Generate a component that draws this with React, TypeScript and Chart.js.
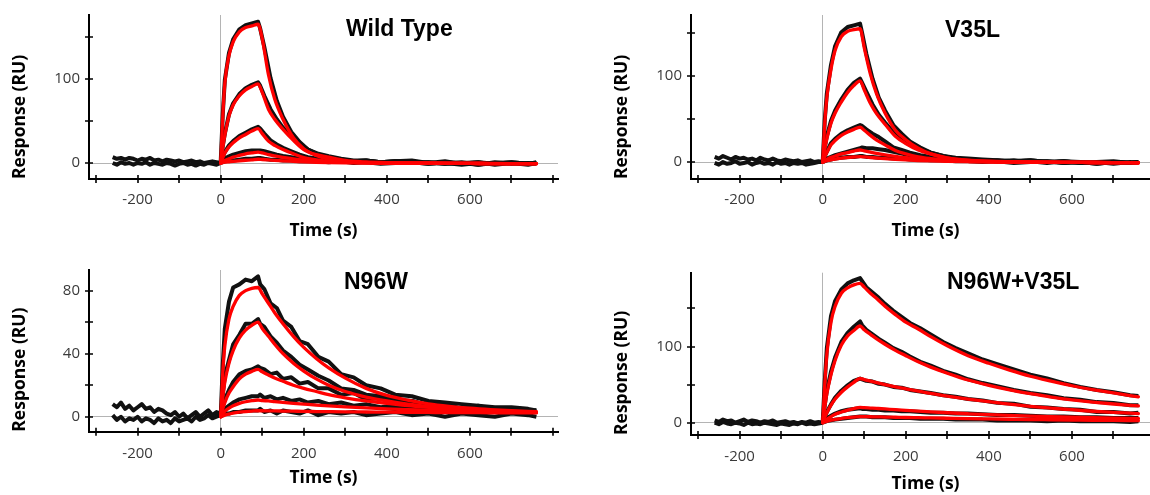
import React, { useEffect, useRef } from "react";
import { Chart, registerables } from "chart.js";

Chart.register(...registerables);

// ---------- time grids (s) ----------
const T_FIT = [0, 5, 10, 20, 30, 45, 60, 75, 90, 100, 115, 130, 150, 175, 200, 230, 260, 300, 350, 400, 450, 500, 550, 600, 650, 700, 760];
const T_RAW = [0, 5, 10, 20, 30, 45, 60, 75, 90, 95, 105, 120, 135, 150, 170, 190, 210, 235, 260, 290, 320, 350, 385, 420, 460, 500, 540, 580, 620, 660, 700, 740, 760];
const T_BASE = [-260, -250, -240, -230, -220, -210, -200, -190, -180, -170, -160, -150, -140, -130, -120, -110, -100, -90, -80, -70, -60, -50, -40, -30, -20, -10, 0];

// ---------- tick labels ----------
const X_TICK_LABELS = [-200, 0, 200, 400, 600];
const WT_Y_LABELS = [0, 100];
const V35L_Y_LABELS = [0, 100];
const N96W_Y_LABELS = [0, 40, 80];
const COMBO_Y_LABELS = [0, 100];

// ---------- Wild Type ----------
const WT_FIT_1 = [0, 55, 95, 128, 144, 156, 161, 163, 165, 148, 105, 76, 52, 30, 17, 9, 4.5, 1.5, 0.5, 0, -0.2, -0.3, -0.4, -0.5, -0.6, -0.7, -0.8];
const WT_FIT_2 = [0, 18, 33, 56, 69, 80, 87, 91, 94, 84, 64, 52, 40, 27, 16, 10, 7, 3, 1.2, 0.5, 0, -0.2, -0.3, -0.4, -0.5, -0.6, -0.8];
const WT_FIT_3 = [0, 6, 12, 19, 24, 30, 34, 38, 41, 35, 26, 21, 16, 11, 6.5, 3.7, 2, 1, 0.4, 0, -0.2, -0.3, -0.4, -0.5, -0.6, -0.7, -0.8];
const WT_FIT_4 = [0, 1.5, 3, 5, 7, 9, 11, 12, 13, 12, 10, 8.5, 6.8, 5, 3.6, 2.4, 1.5, 0.8, 0.3, 0, -0.2, -0.3, -0.4, -0.5, -0.6, -0.7, -0.8];
const WT_FIT_5 = [0, 0.5, 1, 1.5, 2, 2.7, 3.3, 3.8, 4.5, 4.2, 3.7, 3.2, 2.6, 2, 1.4, 0.9, 0.6, 0.3, 0.1, 0, -0.2, -0.3, -0.4, -0.5, -0.6, -0.7, -0.8];
const WT_RAW_1 = [1, 58, 99, 131, 147, 159, 164, 166, 168, 160, 138, 101, 74, 55, 37, 25, 16, 10, 6, 4, 2, 3, 1, 2, 3, 0, 2, -1, 1, -2, 0, -1, 1];
const WT_RAW_2 = [0, 20, 35, 58, 71, 82, 89, 93, 96, 92, 80, 64, 52, 42, 32, 22, 16, 11, 8, 5, 3, 3, 1, 2, 1, -1, 1, 0, -2, 1, -1, 0, -1];
const WT_RAW_3 = [0, 7, 13, 21, 26, 32, 36, 40, 43, 41, 35, 27, 22, 18, 14, 10, 7, 5, 3, 2, 2, 3, 1, 2, 0, 1, -1, 1, -2, 0, 1, -1, 0];
const WT_RAW_4 = [0, 3, 5, 8, 10, 12, 14, 15, 15, 15, 14, 12, 10, 8.5, 7, 5.5, 4.5, 3, 2.5, 2, 1, 2, 0, 1, 0, 1, -1, 0, 1, -1, 0, -2, 0];
const WT_RAW_5 = [0, 1, 2, 3, 3, 4, 5, 5, 6, 6, 5, 4, 4, 3, 3, 2, 2, 2, 1, 2, 0, 1, -1, 0, 1, -1, 0, -2, 0, -1, 1, -1, 0];
const WT_BASE_A = [7, 5, 6, 4, 6, 5, 3, 5, 4, 6, 3, 4, 2, 4, 3, 2, 3, 1, 2, 3, 1, 2, 0, 1, 2, 1, 0];
const WT_BASE_B = [0, -2, 1, -1, 0, -2, 0, -1, 1, -2, 0, -1, -2, 0, -1, -3, -1, 0, -2, -1, -3, -1, -2, 0, -1, -2, 0];

// ---------- V35L ----------
const V35L_FIT_1 = [0, 45, 75, 108, 130, 146, 152, 154, 155, 133, 102, 79, 57, 37, 26, 16, 9.5, 4.5, 1.8, 0.8, 0.3, 0, -0.2, -0.3, -0.5, -0.6, -0.8];
const V35L_FIT_2 = [0, 15, 27, 45, 57, 70, 81, 89, 94.5, 84, 68, 56, 44, 30, 21.5, 14, 9.5, 5, 2.2, 1, 0.4, 0, -0.2, -0.3, -0.5, -0.6, -0.8];
const V35L_FIT_3 = [0, 6, 11, 20, 25, 31, 35, 38, 40.5, 37, 31, 25.5, 20, 13.5, 9.5, 6, 4, 2.2, 1, 0.4, 0, -0.2, -0.3, -0.4, -0.5, -0.6, -0.8];
const V35L_FIT_4 = [0, 1.5, 3, 5.5, 7, 9.5, 11, 12.8, 14, 13, 11.5, 10, 8.3, 6.5, 5, 3.5, 2.5, 1.5, 0.8, 0.3, 0, -0.2, -0.3, -0.4, -0.5, -0.6, -0.8];
const V35L_FIT_5 = [0, 0.8, 1.5, 2.6, 3.5, 4.5, 5.3, 5.9, 6.4, 6, 5.3, 4.7, 4, 3.2, 2.5, 1.8, 1.3, 0.8, 0.4, 0.1, 0, -0.2, -0.3, -0.4, -0.5, -0.6, -0.8];
const V35L_RAW_1 = [0, 49, 80, 113, 135, 151, 157, 159, 161, 150, 126, 97, 75, 60, 43, 33, 24, 17, 11, 7, 4, 3, 2, 1, 2, 0, 1, -1, 0, -2, 0, -1, 0];
const V35L_RAW_2 = [0, 17, 30, 48, 60, 73, 84, 92, 97, 92, 82, 67, 55, 46, 35, 26, 20, 15, 11, 7, 5, 4, 3, 2, 1, 2, 0, 1, -1, 0, -2, 0, -1];
const V35L_RAW_3 = [0, 7, 12, 22, 27, 33, 37, 40, 43, 42, 38, 33, 29, 24, 17, 14, 11, 8, 6, 4, 3, 3, 1, 2, 0, 1, -1, 1, 0, -1, 0, -1, 0];
const V35L_RAW_4 = [0, 2, 4, 6, 8, 10, 12, 14, 16, 17, 16, 16, 15, 14, 12, 10, 8, 6, 5, 3, 3, 2, 2, 1, 1, 2, 0, 1, -1, 0, 1, -1, 0];
const V35L_RAW_5 = [0, 1, 2, 3, 4, 5, 6, 6, 7, 7, 6, 6, 5, 5, 4, 4, 3, 3, 2, 2, 1, 1, 0, 1, -1, 0, 1, -1, 0, -2, 0, -1, 0];
const V35L_BASE_A = [6, 4, 7, 5, 3, 6, 4, 5, 3, 4, 2, 5, 3, 2, 4, 2, 1, 3, 2, 1, 2, 0, 1, 2, 0, 1, 0];
const V35L_BASE_B = [-1, -3, 0, -2, -1, 1, -2, -1, 0, -3, -1, 0, -2, -1, -3, 0, -2, -1, -3, -1, -2, -1, -3, -2, -1, 0, 0];

// ---------- N96W ----------
const N96W_FIT_1 = [0, 28, 45, 62, 70, 77, 80, 81.5, 82, 78, 72, 66, 59, 51, 44, 37, 31, 24.5, 18, 13.5, 10.5, 8.2, 6.6, 5.4, 4.5, 3.8, 3.2];
const N96W_FIT_2 = [0, 12, 22, 34, 42, 50, 55, 58, 60, 56, 51, 46, 40, 34, 29, 24, 20, 16, 12.5, 10, 8, 6.5, 5.3, 4.4, 3.7, 3.2, 2.8];
const N96W_FIT_3 = [0, 5, 9, 15, 19, 24, 27, 28.8, 30, 28.5, 26.5, 24.5, 22.5, 20, 18, 16, 14, 12, 10, 8.5, 7, 6, 5.2, 4.5, 3.9, 3.4, 3];
const N96W_FIT_4 = [0, 2, 3.5, 5.5, 7, 8.5, 9.5, 10.2, 10.6, 10.3, 10, 9.6, 9.1, 8.5, 8, 7.4, 6.9, 6.3, 5.6, 5, 4.5, 4.1, 3.8, 3.5, 3.2, 3, 2.8];
const N96W_FIT_5 = [0, 0.5, 1, 1.7, 2.3, 2.9, 3.3, 3.6, 3.8, 3.8, 3.7, 3.7, 3.6, 3.5, 3.4, 3.3, 3.2, 3.1, 3, 2.9, 2.8, 2.7, 2.6, 2.6, 2.5, 2.5, 2.4];
const N96W_RAW_1 = [0, 33, 56, 73, 82, 84, 87, 86, 89, 84, 81, 72, 69, 61, 57, 48, 46, 38, 35, 27, 25, 20, 18, 14, 13, 10, 9, 8, 7, 6, 6, 5, 4];
const N96W_RAW_2 = [0, 14, 26, 36, 46, 52, 59, 59, 62, 59, 57, 51, 47, 42, 38, 33, 30, 26, 23, 18, 17, 14, 13, 11, 10, 7, 8, 5, 6, 4, 5, 3, 4];
const N96W_RAW_3 = [0, 6, 11, 17, 22, 27, 29, 30, 32, 31, 30, 27, 28, 24, 25, 21, 22, 18, 18, 14, 15, 11, 12, 9, 10, 7, 8, 5, 7, 4, 5, 4, 3];
const N96W_RAW_4 = [0, 3, 5, 7, 9, 11, 12, 13, 13, 14, 12, 13, 11, 12, 10, 11, 9, 10, 8, 9, 7, 8, 6, 7, 5, 6, 4, 5, 4, 3, 5, 3, 4];
const N96W_RAW_5 = [0, 1, 2, 2, 3, 3, 4, 4, 4, 5, 3, 4, 2, 4, 3, 2, 4, 1, 3, 2, 3, 1, 2, 3, 1, 2, 0, 2, 1, 0, 2, 1, 0];
const N96W_BASE_A = [8, 6, 9, 5, 7, 4, 6, 8, 5, 6, 3, 5, 4, 2, 1, 3, 0, 2, -1, 1, 3, 0, 2, 4, 1, 3, 2];
const N96W_BASE_B = [1, -2, 0, -3, -1, -2, 0, -3, -1, -2, -4, -1, -3, -2, -4, -1, -3, -2, -1, -3, 0, -2, -1, 1, -1, 0, 1];

// ---------- N96W+V35L ----------
const COMBO_FIT_1 = [0, 50, 90, 132, 153, 170, 177, 181, 183, 178, 170, 163, 153, 142, 132, 123, 113, 101, 88, 78, 69, 61, 54.5, 48.5, 43.5, 39, 34];
const COMBO_FIT_2 = [0, 20, 38, 63, 82, 102, 114, 121, 127, 122, 116, 110, 103, 95, 88, 80, 73, 65, 56, 49, 43, 38, 33.5, 30, 27, 24.5, 22];
const COMBO_FIT_3 = [0, 7, 13, 23, 31, 40, 47, 53, 58, 56.5, 54.5, 52.5, 50, 47, 44.5, 41.5, 38.5, 35, 31, 27.5, 24.5, 21.5, 19, 17, 15, 13.5, 12];
const COMBO_FIT_4 = [0, 2.5, 4.5, 8, 11, 14, 16.5, 18.5, 20, 19.7, 19.2, 18.7, 18, 17, 16.2, 15.2, 14.2, 13, 11.7, 10.5, 9.5, 8.6, 7.8, 7.1, 6.5, 6, 5.5];
const COMBO_FIT_5 = [0, 1, 1.8, 3.2, 4.3, 5.5, 6.5, 7.3, 8, 7.9, 7.8, 7.6, 7.4, 7.1, 6.8, 6.5, 6.2, 5.8, 5.3, 4.9, 4.5, 4.1, 3.8, 3.5, 3.2, 3, 2.7];
const COMBO_RAW_1 = [0, 55, 98, 140, 160, 175, 183, 187, 190, 186, 178, 171, 164, 156, 147, 139, 131, 124, 116, 106, 98, 91, 83, 77, 70, 63, 58, 52, 47, 43, 40, 36, 35];
const COMBO_RAW_2 = [0, 23, 42, 67, 86, 106, 118, 126, 133, 128, 122, 116, 110, 105, 98, 93, 87, 80, 75, 68, 63, 57, 52, 48, 43, 39, 36, 32, 30, 27, 26, 23, 23];
const COMBO_RAW_3 = [0, 8, 14, 24, 33, 42, 49, 55, 58, 57, 55, 54, 51, 50, 47, 46, 43, 41, 39, 36, 34, 31, 29, 26, 25, 21, 20, 18, 17, 14, 14, 12, 13];
const COMBO_RAW_4 = [0, 3, 6, 9, 12, 15, 17, 18, 19, 18, 18, 17, 17, 16, 16, 15, 15, 14, 13, 13, 12, 12, 11, 10, 10, 9, 8, 8, 7, 7, 6, 6, 6];
const COMBO_RAW_5 = [0, 1, 2, 3, 4, 5, 6, 7, 8, 8, 8, 7, 7, 7, 6, 6, 6, 5, 5, 5, 4, 4, 4, 3, 3, 3, 2, 3, 2, 2, 2, 1, 2];
const COMBO_BASE_A = [3, 1, 4, 2, 3, 0, 2, 4, 1, 3, 2, 0, 2, 1, 3, 0, 1, 2, 0, 1, -1, 1, 0, 2, 0, 1, 0];
const COMBO_BASE_B = [0, -2, 1, -1, -2, 0, -1, -3, 0, -2, -1, -2, 0, -1, -2, -3, -1, -2, -3, -1, -2, 0, -2, -1, -2, -1, 0];

// ---------- panels (data references + layout) ----------
const PANELS = [
  {
    title: "Wild Type",
    fits: [WT_FIT_1, WT_FIT_2, WT_FIT_3, WT_FIT_4, WT_FIT_5],
    raws: [WT_RAW_1, WT_RAW_2, WT_RAW_3, WT_RAW_4, WT_RAW_5],
    bases: [WT_BASE_A, WT_BASE_B],
    yMin: -19, yMax: 176, yStep: 50, yLabels: WT_Y_LABELS,
    left: 0, top: 0, w: 575, h: 250,
    area: { l: 89, r: 558, t: 15, b: 179 },
    xPad: 11.5, xTitlePad: 8, titleX: 346, titleY: 35.5,
  },
  {
    title: "V35L",
    fits: [V35L_FIT_1, V35L_FIT_2, V35L_FIT_3, V35L_FIT_4, V35L_FIT_5],
    raws: [V35L_RAW_1, V35L_RAW_2, V35L_RAW_3, V35L_RAW_4, V35L_RAW_5],
    bases: [V35L_BASE_A, V35L_BASE_B],
    yMin: -19.7, yMax: 171, yStep: 50, yLabels: V35L_Y_LABELS,
    left: 602, top: 0, w: 575, h: 250,
    area: { l: 89, r: 558, t: 15, b: 179 },
    xPad: 12, xTitlePad: 8.5, titleX: 343, titleY: 37,
  },
  {
    title: "N96W",
    fits: [N96W_FIT_1, N96W_FIT_2, N96W_FIT_3, N96W_FIT_4, N96W_FIT_5],
    raws: [N96W_RAW_1, N96W_RAW_2, N96W_RAW_3, N96W_RAW_4, N96W_RAW_5],
    bases: [N96W_BASE_A, N96W_BASE_B],
    yMin: -9.5, yMax: 93.1, yStep: 20, yLabels: N96W_Y_LABELS,
    left: 0, top: 250, w: 575, h: 245,
    area: { l: 89, r: 558, t: 20, b: 181.7 },
    xPad: 13.3, xTitlePad: 6, titleX: 344, titleY: 39,
  },
  {
    title: "N96W+V35L",
    fits: [COMBO_FIT_1, COMBO_FIT_2, COMBO_FIT_3, COMBO_FIT_4, COMBO_FIT_5],
    raws: [COMBO_RAW_1, COMBO_RAW_2, COMBO_RAW_3, COMBO_RAW_4, COMBO_RAW_5],
    bases: [COMBO_BASE_A, COMBO_BASE_B],
    yMin: -16.2, yMax: 197, yStep: 50, yLabels: COMBO_Y_LABELS,
    left: 602, top: 250, w: 575, h: 245,
    area: { l: 89, r: 558, t: 22.7, b: 185 },
    xPad: 13, xTitlePad: 0, titleX: 345, titleY: 39,
  },
];

const X_MIN = -317;
const X_MAX = 812;
const RED = "#ff0000";
const BLACK = "#111111";
const TICK_COLOR = "#3a3a3a";
const TICK_FONT = { family: "'Open Sans', 'Noto Sans', sans-serif", size: 15 };
const AXIS_TITLE_FONT = { family: "'Open Sans', 'Noto Sans', sans-serif", size: 17.5, weight: "bold" as const };

const decorPlugin = {
  id: "decor",
  afterDraw(chart: any, _args: any, opts: any) {
    const ctx = chart.ctx;
    const xs = chart.scales.x;
    const ys = chart.scales.y;
    ctx.save();
    ctx.strokeStyle = "#000";
    ctx.lineWidth = 1.6;
    ctx.beginPath();
    for (const t of xs.ticks) {
      const px = Math.round(xs.getPixelForValue(t.value));
      ctx.moveTo(px, xs.top - 4);
      ctx.lineTo(px, xs.top + 4);
    }
    for (const t of ys.ticks) {
      const py = Math.round(ys.getPixelForValue(t.value));
      ctx.moveTo(ys.right - 4, py);
      ctx.lineTo(ys.right + 4, py);
    }
    ctx.stroke();
    ctx.fillStyle = "#000";
    ctx.font = "bold 23px 'Liberation Sans', Arial, sans-serif";
    ctx.textAlign = "left";
    ctx.textBaseline = "alphabetic";
    ctx.fillText(opts.text, opts.x, opts.y);
    ctx.restore();
  },
};

const pts = (ts: number[], vs: number[]) => ts.map((t, i) => ({ x: t, y: vs[i] }));

const zeroGrid = (c: any) => (c.tick && c.tick.value === 0 ? "#b4b4b4" : "rgba(0,0,0,0)");

function buildConfig(p: any): any {
  const datasets = [
    ...p.fits.map((v: number[]) => ({
      data: pts(T_FIT, v),
      borderColor: RED,
      borderWidth: 3.3,
      pointRadius: 0,
      cubicInterpolationMode: "monotone",
      borderCapStyle: "round",
      borderJoinStyle: "round",
      order: 0,
    })),
    ...p.raws.map((v: number[]) => ({
      data: pts(T_RAW, v),
      borderColor: BLACK,
      borderWidth: 4,
      pointRadius: 0,
      tension: 0,
      borderJoinStyle: "round",
      order: 1,
    })),
    ...p.bases.map((v: number[]) => ({
      data: pts(T_BASE, v),
      borderColor: BLACK,
      borderWidth: 4,
      pointRadius: 0,
      tension: 0,
      borderJoinStyle: "round",
      order: 1,
    })),
  ];
  const a = p.area;
  return {
    type: "line",
    data: { datasets },
    plugins: [decorPlugin],
    options: {
      responsive: false,
      maintainAspectRatio: false,
      animation: false,
      events: [],
      layout: { autoPadding: false, padding: { left: 0, top: a.t, right: p.w - a.r, bottom: 0 } },
      plugins: {
        legend: { display: false },
        tooltip: { enabled: false },
        decor: { text: p.title, x: p.titleX, y: p.titleY },
      },
      scales: {
        x: {
          type: "linear",
          min: X_MIN,
          max: X_MAX,
          afterFit: (s: any) => {
            s.height = p.h - a.b;
            s.paddingLeft = 0;
            s.paddingRight = 0;
          },
          ticks: {
            stepSize: 100,
            autoSkip: false,
            maxRotation: 0,
            includeBounds: false,
            padding: p.xPad,
            color: TICK_COLOR,
            font: TICK_FONT,
            callback: (v: number) => (X_TICK_LABELS.includes(v) ? String(v) : ""),
          },
          grid: { drawTicks: false, color: zeroGrid, lineWidth: 1 },
          border: { display: true, color: "#000", width: 2 },
          title: {
            display: true,
            text: "Time (s)",
            color: "#000",
            font: AXIS_TITLE_FONT,
            padding: { top: 0, bottom: p.xTitlePad },
          },
        },
        y: {
          type: "linear",
          min: p.yMin,
          max: p.yMax,
          afterFit: (s: any) => {
            s.width = a.l;
            s.paddingTop = 0;
            s.paddingBottom = 0;
          },
          ticks: {
            stepSize: p.yStep,
            autoSkip: false,
            includeBounds: false,
            padding: 9,
            color: TICK_COLOR,
            font: TICK_FONT,
            callback: (v: number) => (p.yLabels.includes(v) ? String(v) : ""),
          },
          grid: { drawTicks: false, color: zeroGrid, lineWidth: 1 },
          border: { display: true, color: "#000", width: 2 },
          title: {
            display: true,
            text: "Response (RU)",
            align: "start",
            color: "#000",
            font: AXIS_TITLE_FONT,
            padding: { top: 10, bottom: 0 },
          },
        },
      },
    },
  };
}

function Panel({ p }: { p: any }) {
  const ref = useRef<HTMLCanvasElement | null>(null);
  useEffect(() => {
    const chart = new Chart(ref.current as HTMLCanvasElement, buildConfig(p));
    return () => chart.destroy();
  }, [p]);
  return (
    <canvas
      ref={ref}
      width={p.w}
      height={p.h}
      style={{ position: "absolute", left: p.left, top: p.top, width: p.w, height: p.h }}
    />
  );
}

export default function App() {
  return (
    <div
      style={{
        position: "fixed",
        left: 0,
        top: 0,
        width: 1150,
        height: 495,
        overflow: "hidden",
        background: "#fff",
      }}
    >
      {PANELS.map((p) => (
        <Panel key={p.title} p={p} />
      ))}
    </div>
  );
}
